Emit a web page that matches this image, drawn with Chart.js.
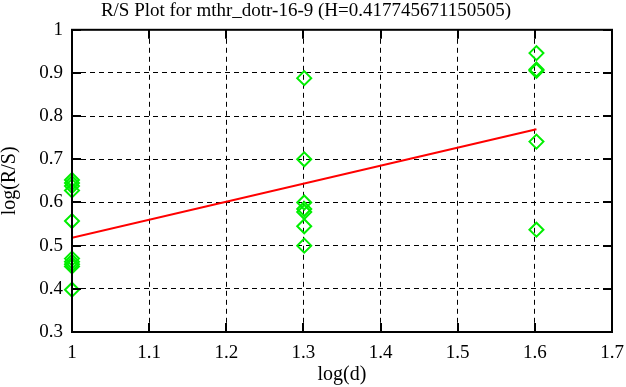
<!DOCTYPE html>
<html>
<head>
<meta charset="utf-8">
<script src="https://cdn.jsdelivr.net/npm/chart.js@4/dist/chart.umd.min.js"></script>
<style>
  html, body { margin: 0; padding: 0; background: #fff; }
  #wrap { width: 626px; height: 387px; }
</style>
</head>
<body>
<div id="wrap"><canvas id="rsChart" width="626" height="387"></canvas></div>
<script>
// data
const logD = [1, 1, 1, 1, 1, 1, 1, 1, 1, 1,
              1.30103, 1.30103, 1.30103, 1.30103, 1.30103, 1.30103, 1.30103,
              1.60206, 1.60206, 1.60206, 1.60206, 1.60206];
const logRS = [0.652, 0.645, 0.638, 0.628, 0.557, 0.47, 0.463, 0.457, 0.452, 0.398,
               0.888, 0.70, 0.60, 0.585, 0.578, 0.545, 0.50,
               0.946, 0.908, 0.905, 0.741, 0.537];
const fitX = [1, 1.60206];
const fitY = [0.518, 0.7695];
const xTicks = [1, 1.1, 1.2, 1.3, 1.4, 1.5, 1.6, 1.7];
const yTicks = [0.3, 0.4, 0.5, 0.6, 0.7, 0.8, 0.9, 1];

const serif = "'Liberation Serif', 'DejaVu Serif', serif";

// box around plot + inward tick marks on all sides
const frame = {
    id: 'frame',
    afterDraw(chart) {
        const ctx = chart.ctx;
        const a = chart.chartArea;
        const xs = chart.scales.x, ys = chart.scales.y;
        ctx.save();
        ctx.strokeStyle = '#000';
        ctx.lineWidth = 2;
        ctx.beginPath();
        xTicks.forEach(function(v) {
            const px = Math.round(xs.getPixelForValue(v));
            ctx.moveTo(px, a.bottom); ctx.lineTo(px, a.bottom - 9);
            ctx.moveTo(px, a.top); ctx.lineTo(px, a.top + 9);
        });
        yTicks.forEach(function(v) {
            const py = Math.round(ys.getPixelForValue(v));
            ctx.moveTo(a.left, py); ctx.lineTo(a.left + 9, py);
            ctx.moveTo(a.right, py); ctx.lineTo(a.right - 9, py);
        });
        ctx.stroke();
        ctx.strokeRect(a.left, a.top, a.right - a.left, a.bottom - a.top);
        ctx.restore();
    }
};

const ctx = document.getElementById('rsChart').getContext('2d');
new Chart(ctx, {
    type: 'scatter',
    data: {
        datasets: [{
            data: logD.map(function(x, i) { return { x: x, y: logRS[i] }; }),
            pointStyle: 'rectRot',
            pointRadius: 7,
            borderColor: '#00ee00',
            backgroundColor: 'rgba(0,0,0,0)',
            borderWidth: 2,
            clip: false,
            order: 2
        }, {
            data: fitX.map(function(x, i) { return { x: x, y: fitY[i] }; }),
            showLine: true,
            borderColor: '#ff0000',
            borderWidth: 2,
            pointRadius: 0,
            order: 1
        }]
    },
    plugins: [frame],
    options: {
        responsive: false,
        animation: false,
        layout: { padding: { left: 0, right: 14, top: 0, bottom: 0 } },
        plugins: {
            legend: { display: false },
            tooltip: { enabled: false },
            title: {
                display: true,
                text: 'R/S Plot for mthr_dotr-16-9 (H=0.417745671150505)',
                color: '#000',
                font: { family: serif, size: 19, weight: 'normal' },
                padding: { top: 0, bottom: 7 }
            }
        },
        scales: {
            x: {
                type: 'linear',
                min: 1, max: 1.7,
                afterBuildTicks: function(s) { s.ticks = xTicks.map(function(v) { return { value: v }; }); },
                afterFit: function(s) {
                    s.height = 55;
                    s.paddingLeft = 0;
                    s.paddingRight = 0;
                },
                ticks: {
                    color: '#000',
                    font: { family: serif, size: 19 },
                    padding: 10,
                    maxRotation: 0,
                    callback: function(v) { return String(Number(v.toFixed(1))); }
                },
                grid: { color: '#000', lineWidth: 1, drawTicks: false },
                border: { display: false, dash: [5, 4] },
                title: {
                    display: true,
                    text: 'log(d)',
                    color: '#000',
                    font: { family: serif, size: 20, lineHeight: 1 },
                    padding: { top: 0, bottom: 2 }
                }
            },
            y: {
                type: 'linear',
                min: 0.3, max: 1,
                afterBuildTicks: function(s) { s.ticks = yTicks.map(function(v) { return { value: v }; }); },
                afterFit: function(s) { s.width = 72; },
                ticks: {
                    color: '#000',
                    font: { family: serif, size: 19 },
                    padding: 9,
                    callback: function(v) { return String(Number(v.toFixed(1))); }
                },
                grid: { color: '#000', lineWidth: 1, drawTicks: false },
                border: { display: false, dash: [5, 4] },
                title: {
                    display: true,
                    text: 'log(R/S)',
                    color: '#000',
                    font: { family: serif, size: 20, lineHeight: 1 },
                    padding: { top: 0, bottom: 0 }
                }
            }
        }
    }
});
</script>
</body>
</html>
